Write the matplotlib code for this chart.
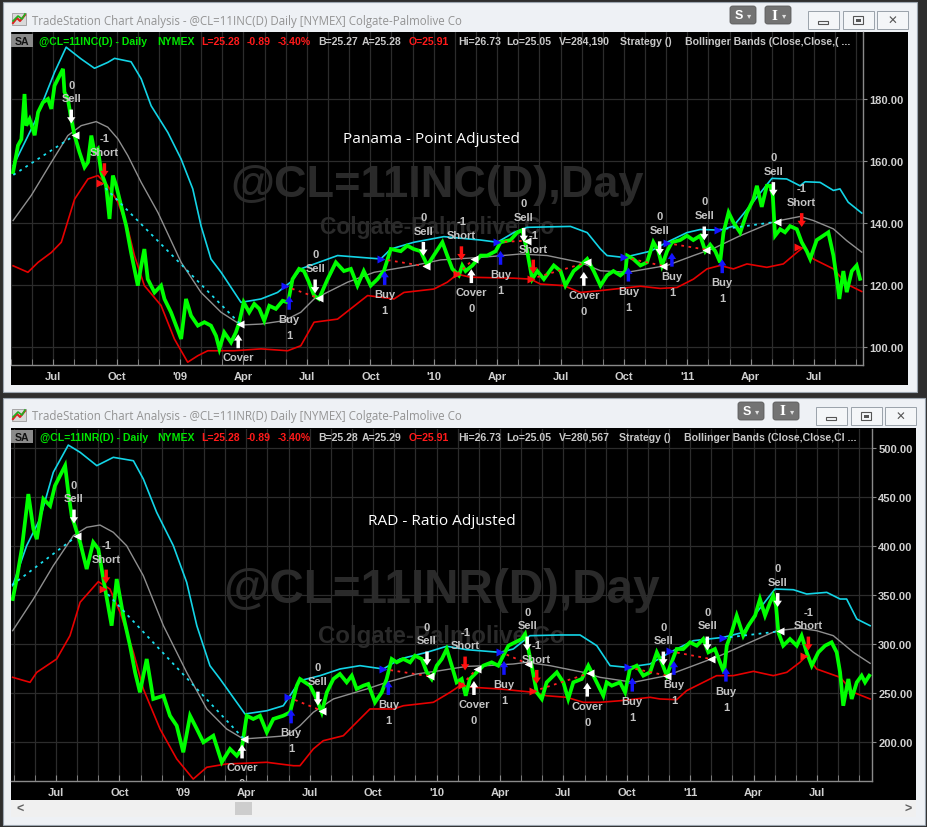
import matplotlib
matplotlib.use('Agg')
import matplotlib.pyplot as plt
from matplotlib.patches import Rectangle, FancyBboxPatch
from matplotlib.lines import Line2D

plt.rcParams['font.family'] = ['Liberation Sans', 'DejaVu Sans']

# Canvas size in pixels (layout only)
W, H = 928, 828

# ---------------- data (x = months since Jan 2008) ----------------
month_ticks = [6, 9, 12, 15, 18, 21, 24, 27, 30, 33, 36, 39, 42]
month_labels = ['Jul', 'Oct', "'09", 'Apr', 'Jul', 'Oct', "'10", 'Apr', 'Jul', 'Oct', "'11", 'Apr', 'Jul']

# Panama (point adjusted) price path
pan_m = [4.10, 4.33, 4.49, 4.64, 4.72, 4.88, 5.12, 5.28, 5.51, 5.75, 5.91, 6.06, 6.30, 6.46, 6.53, 6.69, 6.85,
         7.01, 7.24, 7.48, 7.64, 7.80, 7.95, 8.11, 8.27, 8.50, 8.66, 8.82, 8.98, 9.21, 9.45, 9.68, 10.00, 10.16,
         10.31, 10.47, 10.79, 11.10, 11.26, 11.57, 11.81, 12.05, 12.28, 12.52, 12.84, 13.15, 13.46, 13.70, 13.86,
         14.09, 14.41, 14.64, 14.80, 15.01, 15.27, 15.51, 15.75, 15.98, 16.22, 16.53, 16.85, 17.11, 17.32, 17.63,
         17.86, 18.09, 18.34, 18.57, 18.98, 19.37, 19.75, 20.08, 20.39, 20.69, 21.02, 21.34, 21.64, 21.97, 22.44,
         22.75, 23.05, 23.38, 23.70, 24.00, 24.41, 24.64, 24.88, 25.19, 25.35, 25.51, 25.83, 26.22, 26.53, 26.93,
         27.16, 27.63, 27.95, 28.19, 28.42, 28.66, 28.90, 29.21, 29.68, 30.00, 30.23, 30.62, 30.94, 31.26, 31.57,
         31.89, 32.20, 32.50, 32.83, 33.07, 33.15, 33.44, 33.78, 34.09, 34.39, 34.63, 34.80, 35.04, 35.27, 35.66,
         35.98, 36.28, 36.61, 36.85, 37.08, 37.32, 37.55, 37.71, 37.95, 38.18, 38.50, 38.82, 39.13, 39.29, 39.52,
         39.76, 39.92, 40.04, 40.15, 40.39, 40.62, 40.86, 41.18, 41.41, 41.65, 41.81, 42.12, 42.43, 42.67, 42.91,
         43.07, 43.19, 43.38, 43.54, 43.78, 44.01, 44.17]
pan_p = [156.4, 165, 167, 181.6, 171.4, 173.5, 168.3, 175.7, 178.9, 180, 176.8, 184.3, 187.5, 189.7, 182.2, 180, 173.5,
         168.2, 162.8, 158, 159.6, 168.2, 162.8, 163.9, 156.3, 152, 141.3, 155.3, 152, 145.6, 139.1, 130.5, 119.8, 126.2,
         131.6, 121.9, 117.6, 119.8, 115.5, 111.2, 106.9, 102.6, 115.5, 110.1, 106.9, 108, 106.9, 103.6, 99.4,
         104.7, 101.5, 104.7, 108, 114.4, 111.2, 113.9, 112.3, 108.5, 113.3, 112.3, 114.9, 114.4, 121.9, 125.2,
         124.5, 121, 116.6, 115.5, 121.9, 127.3, 124.5, 125.2, 119.8, 124.5, 119.8, 121.9, 124.5, 131.6, 130.9,
         132.7, 131.6, 130.9, 126.3, 129.5, 133.8, 129.5, 125.2, 123.1, 126.3, 124.5, 126.3, 129.5, 129.5, 130.9,
         133.8, 134.5, 136.9, 137.7, 130.9, 121.9, 124.5, 121.9, 126.3, 124.5, 119.8, 124.5, 126.3, 128.4, 124.5,
         119.8, 123.1, 124.5, 123.1, 124.5, 129.5, 128.4, 126.3, 127.3, 133.8, 130.9, 126.3, 130.9, 133.8, 134.5,
         135.9, 134.5, 135.9, 130.9, 133, 130.9, 127.3, 136.9, 143.4, 140.2, 136.9, 143.4, 147.7, 152, 145.2,
         152, 152, 149, 135.9, 138, 137, 139, 138, 133.8, 130.9, 128.4, 134.5, 135.9, 137, 129.5,
         121.9, 115.5, 124.5, 117.7, 124.5, 126.3, 122]

pan_up_m = [4.11, 5.12, 6.06, 6.61, 7.32, 7.95, 8.58, 8.90, 9.68, 10.16, 10.63, 11.42, 12.05, 12.60, 12.99, 13.46,
            13.94, 14.88, 15.83, 16.61, 17.24, 17.71, 19.45, 21.49, 21.97, 23.07, 24.48, 26.22, 27.01, 27.79, 28.42,
            30.47, 31.26, 31.89, 32.20, 32.99, 34.25, 35.04, 35.98, 36.61, 37.55, 38.18, 38.97, 40.00, 40.70, 41.33,
            41.57, 42.28, 42.91, 43.22, 43.61, 44.25]
pan_up_v = [158.5, 172.5, 188.6, 196.7, 192.9, 189.9, 191.8, 193.1, 192.0, 186.5, 177.8, 169.2, 160.6, 151, 139.1, 128.4,
            124.1, 114.4, 115.5, 117.6, 121, 125.2, 129.5, 128.4, 131.6, 133.8, 135.6, 134.5, 133.8, 136.9, 138.6,
            138.9, 136.9, 131.6, 129.5, 128.9, 130.9, 133.8, 136.9, 137.9, 137.7, 139, 145.6, 154.4, 154.2, 152,
            153.3, 153.1, 150.5, 151, 146.7, 143.2]
pan_mid_m = [4.10, 4.96, 5.91, 6.69, 7.32, 8.03, 8.58, 9.06, 9.53, 10.16, 10.95, 12.05, 12.99, 13.94, 14.88, 15.83,
             16.93, 17.71, 18.34, 19.92, 21.18, 23.07, 24.33, 26.22, 28.11, 29.37, 30.94, 31.89, 33.15, 35.04, 36.29,
             37.24, 38.50, 40.07, 41.33, 41.96, 42.91, 43.54, 44.25]
pan_mid_v = [140.8, 148.9, 159.6, 168.2, 171.4, 172.7, 170.9, 167.1, 161.7, 153.1, 143.4, 127.3, 117.6, 111.2, 107.1, 107.4,
             108.5, 111.2, 115.5, 120.9, 124.1, 126.3, 128.1, 128.9, 130, 129.5, 127.3, 124.6, 124.1, 126.3, 129.5,
             131.8, 135.9, 140.4, 142.1, 140.8, 138.1, 134.3, 130.6]
pan_lo_m = [4.10, 4.80, 5.28, 5.91, 6.38, 7.01, 7.64, 8.11, 8.58, 9.06, 9.53, 9.84, 10.31, 11.10, 11.73, 12.36, 12.84,
            13.31, 14.56, 15.83, 17.09, 17.71, 18.34, 19.45, 20.87, 22.12, 22.59, 24.01, 24.64, 25.12, 25.74, 27.79,
            28.58, 29.05, 30.15, 30.94, 31.89, 33.78, 34.72, 35.51, 36.29, 36.93, 37.55, 38.18, 38.82, 39.76, 40.54,
            41.18, 41.49, 41.96, 42.91, 43.54, 44.25]
pan_lo_v = [126.2, 124.1, 127.3, 130.5, 133.8, 147.7, 154.2, 155.3, 152, 146.7, 138.1, 129.5, 119.8, 113.4, 102.6, 95.1, 97.2,
            98.8, 98.8, 99.4, 98.8, 100.4, 108, 109, 116.6, 115.5, 117.6, 118.7, 120.9, 123.5, 122.5, 122.2,
            121.9, 120.3, 119.8, 117.6, 118.2, 119.6, 118.9, 119.2, 121.9, 125.2, 126.3, 125.2, 126.8, 125.7, 126.8,
            130.5, 132.2, 128.4, 125.2, 120.3, 117.9]

pan_sig_m = [6.85, 8.42, 14.75, 17.16, 18.39, 21.68, 23.51, 25.31, 25.78, 27.16, 28.26, 28.71, 31.10, 33.21, 34.69,
             35.27, 36.80, 37.65, 40.07, 41.41]
pan_sig_p = [172.1, 154.8, 104.1, 116.5, 117.3, 124.5, 129.4, 128.0, 125.1, 131.0, 133.9, 123.7, 124.2, 125.6, 129.6,
             130.4, 134.4, 128.3, 148.7, 138.7]
sig_kind = ['Sell', 'Short', 'Cover', 'Buy', 'Sell', 'Buy', 'Sell', 'Short', 'Cover', 'Buy', 'Sell', 'Short', 'Cover',
            'Buy', 'Sell', 'Buy', 'Sell', 'Buy', 'Sell', 'Short']

pan_in_m = [4.11, 8.23, 16.97, 21.49, 25.12, 27.01, 28.58, 33.02, 35.04, 37.47, 41.25]
pan_in_p = [155.5, 152.9, 119.6, 128.4, 123.5, 133.8, 121.9, 128.9, 133.5, 137.8, 132.2]
pan_out_m = [7.04, 14.85, 18.58, 23.65, 25.90, 28.42, 31.26, 34.83, 36.89, 40.23]
pan_out_p = [168.4, 107.4, 115.7, 126.0, 128.4, 134.3, 127.3, 126.2, 131.4, 140.4]
trade_side = ['L', 'S', 'L', 'L', 'S', 'L', 'S', 'L', 'L', 'L', 'S']
trade_win = [True, True, False, False, False, False, False, False, False, True]

# RAD (ratio adjusted) price path
rad_m = [3.95, 4.14, 4.38, 4.69, 4.93, 5.09, 5.40, 5.72, 5.95, 6.19, 6.43, 6.58, 6.74, 7.14, 7.45, 7.76, 8.00, 8.24,
         8.63, 8.87, 9.18, 9.50, 9.74, 9.97, 10.29, 10.60, 11.08, 11.39, 11.71, 12.02, 12.34, 12.66, 12.97, 13.44,
         13.84, 14.23, 14.55, 14.78, 15.02, 15.33, 15.65, 15.97, 16.28, 16.75, 17.07, 17.39, 17.54, 18.02, 18.33,
         18.57, 18.81, 19.12, 19.43, 19.75, 19.99, 20.22, 20.54, 20.77, 21.09, 21.41, 21.64, 21.88, 22.12, 22.43,
         22.75, 22.98, 23.30, 23.54, 23.77, 24.01, 24.25, 24.48, 24.72, 24.95, 25.19, 25.38, 25.58, 25.90, 26.21,
         26.61, 26.92, 27.16, 27.40, 27.71, 28.03, 28.19, 28.34, 28.50, 28.74, 28.98, 29.21, 29.69, 30.00, 30.23,
         30.47, 30.87, 31.18, 31.42, 31.89, 32.05, 32.29, 32.68, 32.92, 33.15, 33.47, 33.78, 34.10, 34.42, 34.65,
         34.89, 35.12, 35.36, 35.67, 35.99, 36.31, 36.62, 36.86, 37.17, 37.41, 37.60, 37.73, 37.96, 38.20, 38.51,
         38.75, 39.07, 39.30, 39.54, 39.78, 39.93, 40.06, 40.17, 40.40, 40.72, 41.04, 41.27, 41.51, 41.75, 42.06,
         42.38, 42.69, 42.93, 43.09, 43.24, 43.48, 43.64, 43.88, 44.11, 44.27, 44.47]
rad_p = [345.9, 366.3, 397, 453, 417.3, 407, 448, 441, 461.5, 471.7, 482, 454.8, 431, 403.8, 376.5, 403.8, 397, 366.3,
         318.7, 366.3, 329, 298.3, 271.1, 250.7, 284.7, 243.9, 247.2, 226.8, 216.6, 189.5, 226.8, 213.3, 199.7, 206.4,
         179.3, 192.9, 186, 192.9, 226.8, 223.5, 226.8, 209.9, 223.5, 226.8, 230.3, 257.5, 264.3, 257.5, 243.9,
         230.3, 250.7, 264.3, 269.4, 260.9, 267.7, 254.1, 257.5, 259.2, 240.5, 250.7, 264.3, 284.7, 281.3, 284.7,
         281.3, 288.1, 284.7, 271.1, 264.3, 277.9, 284.7, 294.9, 277.9, 260.9, 264.3, 247.2, 264.3, 271.1, 277.9,
         281.3, 277.9, 288.1, 298.3, 301.7, 305.1, 310.2, 294.9, 277.9, 250.7, 243.9, 260.9, 271.1, 260.9, 243.9,
         260.9, 264.3, 277.9, 267.7, 247.2, 260.9, 257.5, 260.9, 250.7, 274.5, 277.9, 267.7, 271.1, 291.5, 281.3,
         267.7, 281.3, 294.9, 294.9, 301.7, 298.3, 305.1, 291.5, 294.9, 281.3, 271.1, 298.3, 311.9, 329, 308.5,
         318.7, 329, 345.9, 329, 342.6, 349.3, 339.1, 311.9, 298.3, 305.1, 298.3, 308.5, 291.5, 277.9, 291.5,
         298.3, 301.7, 291.5, 271.1, 237, 264.3, 243.9, 260.9, 267.7, 260.9, 267.7]

rad_up_m = [3.95, 4.61, 5.24, 5.87, 6.58, 7.14, 7.93, 8.71, 9.66, 10.13, 10.76, 11.55, 12.18, 12.66, 13.28, 13.76, 14.94,
            15.97, 16.75, 17.54, 18.49, 19.43, 20.38, 21.48, 22.27, 23.54, 24.48, 25.43, 27.00, 27.63, 28.42, 29.84,
            30.79, 31.58, 32.21, 33.00, 34.10, 35.04, 36.15, 37.57, 38.51, 39.15, 40.01, 40.88, 41.51, 42.46, 43.09,
            43.40, 43.88, 44.51]
rad_up_v = [359.5, 400.3, 427.6, 475.2, 503, 495.6, 482, 490.5, 487, 468.4, 434.4, 400.3, 363, 318.7, 277.9, 264.3, 228.6,
            231.9, 237, 262.6, 267.7, 274.5, 277.9, 274.5, 284.7, 291.5, 297.7, 294.2, 291.5, 294.9, 308.5, 309.2,
            309.2, 298.3, 277.9, 276.2, 279.6, 291.5, 303.4, 306.8, 311.9, 332.3, 356.1, 355.4, 351, 352.7, 345.9,
            345.9, 325.5, 318.7]
rad_mid_m = [3.95, 4.93, 5.87, 6.82, 7.45, 8.08, 8.71, 9.34, 10.13, 11.08, 12.18, 13.13, 14.07, 14.86, 15.97, 16.91,
             17.54, 18.17, 19.12, 20.70, 21.64, 23.06, 24.16, 25.43, 26.37, 27.63, 28.27, 29.37, 30.94, 31.73, 33.31,
             34.89, 36.15, 37.41, 38.83, 40.09, 41.19, 41.98, 42.77, 43.72, 44.51]
rad_mid_v = [313.6, 345.9, 379.9, 410.5, 419.1, 421.4, 414, 400.3, 369.7, 318.7, 271.1, 233.7, 213.3, 203.1, 204.8, 206.4,
             216.6, 230.3, 243.9, 254.1, 260.9, 269.4, 272.8, 277.2, 277.9, 279.6, 281.3, 277.9, 271.1, 266, 260.9,
             267.7, 277.9, 288.1, 301.7, 313.6, 316.1, 313.6, 308.5, 291.5, 280.3]
rad_lo_m = [3.95, 4.77, 5.09, 6.03, 6.66, 7.14, 8.00, 8.55, 9.03, 9.66, 10.13, 10.92, 11.71, 12.49, 13.13, 14.07, 15.97,
            17.23, 17.54, 18.17, 18.64, 19.59, 20.22, 20.85, 21.96, 22.43, 23.85, 24.64, 25.11, 25.74, 27.00, 28.58,
            29.21, 30.16, 30.94, 31.73, 32.68, 34.10, 34.57, 35.36, 35.83, 36.62, 37.25, 38.04, 38.99, 39.93, 40.57,
            41.19, 41.51, 41.98, 43.09, 43.72, 44.51]
rad_lo_v = [266, 260.9, 271.1, 284.7, 308.5, 342.6, 363.6, 356.1, 332.3, 291.5, 254.1, 213.3, 182.7, 162.2, 174.2, 177.6,
            179.3, 175.8, 175.8, 192.9, 201.3, 206.4, 220.1, 233.7, 233.7, 237, 240.5, 250.7, 257.5, 255.8, 254.1,
            250.7, 247.2, 245.6, 240.5, 240.5, 242.1, 245.6, 243.9, 243.2, 252.4, 260.9, 267.7, 267.7, 272.1, 267.7,
            271.1, 281.3, 288.1, 274.5, 266, 250.7, 243.9]

rad_sig_m = [6.85, 8.37, 14.80, 17.12, 18.39, 21.72, 23.55, 25.35, 25.77, 27.19, 28.29, 28.74, 31.13, 33.26, 34.73,
             35.23, 36.81, 37.69, 40.14, 41.59]
rad_sig_p = [423.0, 361.7, 197.4, 233.2, 237.2, 262.2, 278.1, 273.0, 262.2, 282.7, 293.4, 259.4, 260.5, 265.6, 278.1,
             282.7, 293.4, 275.8, 337.8, 293.4]

rad_in_m = [3.92, 8.22, 16.99, 21.48, 25.19, 27.00, 28.58, 33.07, 35.04, 37.54, 41.38]
rad_in_p = [360.2, 356.1, 245.6, 274.5, 258.2, 292.1, 251.7, 276.2, 292.6, 306.1, 287.4]
rad_out_m = [6.99, 14.89, 18.57, 23.69, 25.90, 28.34, 31.26, 34.89, 36.97, 40.25]
rad_out_p = [410.2, 203.1, 231.9, 267.0, 274.5, 279.6, 270.4, 267.7, 284.7, 313.0]

# header line values
hdr_top = [('@CL=11INC(D) - Daily', 39, '#00e600'), ('NYMEX', 157, '#00e600'), ('L=25.28', 201, '#ff1a1a'),
           ('-0.89', 247, '#ff1a1a'), ('-3.40%', 278, '#ff1a1a'), ('B=25.27', 318, '#c8c8c8'),
           ('A=25.28', 362, '#c8c8c8'), ('O=25.91', 409, '#ff1a1a'), ('Hi=26.73', 458, '#c8c8c8'),
           ('Lo=25.05', 506, '#c8c8c8'), ('V=284,190', 559, '#c8c8c8'), ('Strategy ()', 620, '#c8c8c8'),
           ('Bollinger Bands (Close,Close,( ...', 685, '#c8c8c8')]
hdr_bot = [('@CL=11INR(D) - Daily', 40, '#00e600'), ('NYMEX', 157, '#00e600'), ('L=25.28', 201, '#ff1a1a'),
           ('-0.89', 247, '#ff1a1a'), ('-3.40%', 278, '#ff1a1a'), ('B=25.28', 318, '#c8c8c8'),
           ('A=25.29', 362, '#c8c8c8'), ('O=25.91', 409, '#ff1a1a'), ('Hi=26.73', 458, '#c8c8c8'),
           ('Lo=25.05', 506, '#c8c8c8'), ('V=280,567', 559, '#c8c8c8'), ('Strategy ()', 619, '#c8c8c8'),
           ('Bollinger Bands (Close,Close,Cl ...', 684, '#c8c8c8')]

# ---------------- figure & window chrome ----------------
fig = plt.figure(figsize=(W / 100, H / 100), dpi=100, facecolor='#2e2e2e')
renderer = fig.canvas.get_renderer()


def fit(t, width_px):
    # scale a text so that it spans the width measured on the screenshot
    w = t.get_window_extent(renderer).width
    t.set_fontsize(t.get_fontsize() * width_px / w)


def box(x0, y0, x1, y1, fc, ec='none', lw=0, z=-5):
    fig.add_artist(Rectangle((x0 / W, 1 - y1 / H), (x1 - x0) / W, (y1 - y0) / H,
                             transform=fig.transFigure, fc=fc, ec=ec, lw=lw, zorder=z))


def ftext(x, y, s, **kw):
    return fig.text(x / W, 1 - y / H, s, **kw)


def window(y0, y1, x1, title, btn_dx, bl_x1, bl_y1):
    box(3, y0, x1, y1, '#eef1f5', ec='#9ca6b0', lw=0.8, z=-6)
    box(11, y0 + 30, bl_x1, bl_y1, 'black', z=-4)
    # app icon
    box(12, y0 + 11, 26, y0 + 23, '#d9d9d9', ec='#8c8c8c', lw=0.5, z=-3)
    fig.add_artist(Line2D([13 / W, 17 / W, 20 / W, 25 / W],
                          [1 - (y0 + 21) / H, 1 - (y0 + 16) / H, 1 - (y0 + 19) / H, 1 - (y0 + 13) / H],
                          color='#e02020', lw=1.5, zorder=-2))
    fig.add_artist(Line2D([13 / W, 18 / W, 22 / W, 25 / W],
                          [1 - (y0 + 19) / H, 1 - (y0 + 14) / H, 1 - (y0 + 17) / H, 1 - (y0 + 12) / H],
                          color='#20b020', lw=1.2, zorder=-2))
    t = ftext(32, y0 + 18, title, fontsize=9, color='#939393', va='center', family=['Open Sans', 'DejaVu Sans'])
    fit(t, 433)
    # S and I drop-down buttons
    for bx, lab in [(730, 'S'), (765, 'I')]:
        fig.add_artist(FancyBboxPatch(((bx + btn_dx) / W, 1 - (y0 + 22) / H), 26 / W, 18 / H,
                                      boxstyle='round,pad=0,rounding_size=0.003', transform=fig.transFigure,
                                      fc='#737373', ec='#5a5a5a', lw=0.6, zorder=-3))
        ftext(bx + btn_dx + 9, y0 + 13, lab, fontsize=9, color='white', fontweight='bold', ha='center',
              va='center', family=['DejaVu Serif'] if lab == 'I' else None)
        ftext(bx + btn_dx + 19, y0 + 13, '\u25be', fontsize=6, color='#e0e0e0', ha='center', va='center',
              family=['DejaVu Sans'])
    # min / max / close
    for k, bx in enumerate([808, 843, 877]):
        bx += btn_dx
        box(bx, y0 + 9, bx + 31, y0 + 27, '#f4f6f8', ec='#9aa2aa', lw=0.7, z=-3)
        cx, cy = bx + 15.5, y0 + 18
        if k == 0:
            box(cx - 5, cy + 1, cx + 5, cy + 4, '#f4f6f8', ec='#555555', lw=0.8, z=-2)
        elif k == 1:
            box(cx - 5, cy - 4, cx + 5, cy + 4, '#f4f6f8', ec='#555555', lw=0.8, z=-2)
            box(cx - 2.5, cy - 1, cx + 2.5, cy + 1.5, '#555555', z=-1)
        else:
            ftext(cx, cy, '\u2715', fontsize=8.5, color='#555555', ha='center', va='center', fontweight='bold',
                  family=['DejaVu Sans'])


window(3, 393, 917, 'TradeStation Chart Analysis - @CL=11INC(D) Daily [NYMEX] Colgate-Palmolive Co', 0, 908, 386)
window(399, 826, 925, 'TradeStation Chart Analysis - @CL=11INR(D) Daily [NYMEX] Colgate-Palmolive Co', 8, 916, 801)

# scrollbar of the lower window
box(11, 801, 916, 818, '#f0f0f0', z=-3)
box(235, 803, 252, 816, '#cdcdcd', z=-2)
ftext(20, 809.5, '<', fontsize=9, color='#606060', ha='center', va='center', fontweight='bold')
ftext(908, 809.5, '>', fontsize=9, color='#606060', ha='center', va='center', fontweight='bold')


def header(y, items):
    box(11, y - 7, 33, y + 6, '#8a8a8a', z=4)
    ftext(22, y, 'SA', fontsize=7.6, color='#111111', fontweight='bold', ha='center', va='center', zorder=5)
    for s, x, c in items:
        ftext(x, y, s, fontsize=7.6, color=c, fontweight='bold', va='center', zorder=5)


header(42, hdr_top)
header(438, hdr_bot)


# ---------------- chart panels ----------------
def panel(rect, xlim, ylim, yticks, name, sym, wm_w, pm, pp, um, uv, mm, mv, lm, lv, sm, sp, im, ip, om, op):
    x0, y0, x1, y1 = rect
    ax = fig.add_axes([x0 / W, 1 - y1 / H, (x1 - x0) / W, (y1 - y0) / H])
    ax.set_facecolor('black')
    ax.set_xlim(*xlim)
    ax.set_ylim(*ylim)
    for s in ['top', 'left']:
        ax.spines[s].set_visible(False)
    for s in ['right', 'bottom']:
        ax.spines[s].set_color('#8a8a8a')
        ax.spines[s].set_linewidth(1.0)
    ax.yaxis.tick_right()
    ax.set_yticks(yticks)
    ax.set_yticklabels(['%.2f' % v for v in yticks])
    ax.set_xticks(month_ticks)
    ax.set_xticklabels(month_labels)
    ax.set_xticks(range(4, 45), minor=True)
    ax.tick_params(axis='y', colors='#8a8a8a', labelcolor='#d0d0d0', labelsize=8, length=3, pad=1.5)
    ax.tick_params(axis='x', which='both', colors='#8a8a8a', labelcolor='#d0d0d0', labelsize=8,
                   direction='in', length=4, pad=4)
    for lab in ax.get_xticklabels() + ax.get_yticklabels():
        lab.set_fontweight('bold')
    ax.grid(True, which='both', axis='x', color='#2c2c2c', lw=0.9)
    ax.grid(True, which='major', axis='y', color='#2c2c2c', lw=0.9)
    ax.set_axisbelow(True)

    # watermark
    t1 = ax.text(0.5, 0.508, sym, transform=ax.transAxes, ha='center', va='baseline', fontsize=32,
                 fontweight='bold', color='#2a2a2a', zorder=0.5)
    t2 = ax.text(0.5, 0.395, 'Colgate-Palmolive Co', transform=ax.transAxes, ha='center', va='baseline',
                 fontsize=16.5, fontweight='bold', color='#2a2a2a', zorder=0.5)
    fit(t1, wm_w[0])
    fit(t2, wm_w[1])

    ax.plot(um, uv, color='#13d4e6', lw=1.2, zorder=2)
    ax.plot(mm, mv, color='#8f8f8f', lw=1.0, zorder=2)
    ax.plot(lm, lv, color='#e60000', lw=1.2, zorder=2)
    ax.plot(pm, pp, color='#00ff00', lw=2.7, zorder=3, solid_joinstyle='miter')

    # trade connectors and entry / exit triangles
    for k in range(len(im)):
        ent_c = '#1414ff' if trade_side[k] == 'L' else '#ff1010'
        if k < len(om):
            lc = '#19e0f0' if trade_win[k] else '#ff2020'
            ax.plot([im[k], om[k]], [ip[k], op[k]], color=lc, lw=1.3, ls=(0, (1.5, 2.5)), zorder=4)
            ax.plot(om[k], op[k], marker='<', ms=6, color='white', mec='none', zorder=5)
        if im[k] > xlim[0] + 0.1:
            ax.plot(im[k], ip[k], marker='>', ms=6, color=ent_c, mec='none', zorder=5)

    # signal arrows with labels (clipped to the plot like the original)
    for m, p, kind in zip(sm, sp, sig_kind):
        down = kind in ('Sell', 'Short')
        col = {'Sell': 'white', 'Cover': 'white', 'Buy': '#1414ff', 'Short': '#ff1010'}[kind]
        ax.annotate('', xy=(m, p), xytext=(0, 10 if down else -10), textcoords='offset points',
                    arrowprops=dict(arrowstyle='simple,head_length=0.45,head_width=0.6,tail_width=0.25',
                                    mutation_scale=10, fc=col, ec='none', shrinkA=0, shrinkB=0), zorder=6)
        top, bot = {'Sell': ('0', 'Sell'), 'Short': ('-1', 'Short'), 'Buy': ('Buy', '1'),
                    'Cover': ('Cover', '0')}[kind]
        offs = (28, 18) if down else (-16.5, -28)
        for s, dy in zip((top, bot), offs):
            t = ax.annotate(s, xy=(m, p), xytext=(0, dy), textcoords='offset points', ha='center', va='center',
                            fontsize=8, fontweight='bold', color='#c4c4c4', zorder=6)
            t.set_clip_on(True)
            t.set_clip_box(ax.bbox)

    tt = ax.text(name[1], name[2], name[0], transform=ax.transAxes, ha='center', va='baseline', fontsize=11,
                 color='white', family=['Open Sans', 'DejaVu Sans'], zorder=7)
    fit(tt, name[3])
    return ax


panel((11, 33, 863, 366), (4.064, 44.31), (94.2, 201.6), [100, 120, 140, 160, 180],
      ('Panama - Point Adjusted', 0.493, 0.670, 176), '@CL=11INC(D),Day', (415, 234),
      pan_m, pan_p, pan_up_m, pan_up_v, pan_mid_m, pan_mid_v, pan_lo_m, pan_lo_v,
      pan_sig_m, pan_sig_p, pan_in_m, pan_in_p, pan_out_m, pan_out_p)

panel((11, 430, 872, 782), (3.87, 44.6), (160.2, 519.4), [200, 250, 300, 350, 400, 450, 500],
      ('RAD - Ratio Adjusted', 0.5, 0.730, 148), '@CL=11INR(D),Day', (438, 245),
      rad_m, rad_p, rad_up_m, rad_up_v, rad_mid_m, rad_mid_v, rad_lo_m, rad_lo_v,
      rad_sig_m, rad_sig_p, rad_in_m, rad_in_p, rad_out_m, rad_out_p)

fig.savefig('out.png', dpi=100, facecolor=fig.get_facecolor())
